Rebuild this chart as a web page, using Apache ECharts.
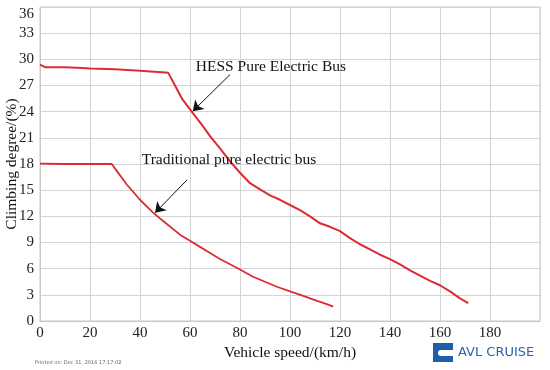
<!DOCTYPE html>
<html>
<head>
<meta charset="utf-8">
<script src="https://cdn.jsdelivr.net/npm/echarts@6/dist/echarts.min.js"></script>
<style>html,body{margin:0;padding:0;background:#fff}#c{width:550px;height:370px}</style>
</head>
<body>
<div id="c"></div>
<script>
// Data
var hessSeries = [
  [0,29.4],[2,29.1],[10,29.1],[17,29.0],[20,28.95],[30,28.85],[40,28.7],[50,28.5],[51.3,28.45],
  [54,27.0],[57,25.4],[61,23.9],[65,22.4],[68,21.2],[72,19.8],[76,18.3],[80,17.0],[84,15.8],
  [88,15.1],[92,14.4],[96,13.9],[100,13.3],[104,12.7],[108,12.0],[112,11.2],[116,10.8],[120,10.3],
  [124,9.5],[128,8.8],[132,8.2],[136,7.6],[140,7.1],[144,6.5],[148,5.8],[152,5.2],[156,4.6],
  [160,4.1],[164,3.4],[168,2.6],[171.3,2.05]
];
var tradSeries = [
  [0,18.05],[10,18.0],[20,18.0],[28.7,18.0],[31,17.1],[34.7,15.65],[40,13.9],[45.3,12.4],[50,11.3],
  [56,9.9],[60,9.2],[64,8.5],[68,7.8],[72,7.1],[76,6.5],[80,5.9],[85,5.1],[90,4.5],[95,3.9],
  [100,3.4],[105,2.9],[110,2.4],[115,1.9],[117.3,1.65]
];
var seriesNames = ['HESS Pure Electric Bus', 'Traditional pure electric bus'];
var xTicks = [0,20,40,60,80,100,120,140,160,180];
var yTicks = [0,3,6,9,12,15,18,21,24,27,30,33,36];
var xName = 'Vehicle speed/(km/h)';
var yName = 'Climbing degree/(%)';
// annotation anchors (data units)
var hessLabelAt = [62.3, 29.1];
var hessArrow = [[76, 28.25], [61.1, 24.05]];
var tradLabelAt = [40.7, 18.5];
var tradArrow = [[58.9, 16.2], [46, 12.4]];

var serif = '"Liberation Serif", "Times New Roman", serif';
var chart = echarts.init(document.getElementById('c'));
function arrowLine(a) {
  return {
    silent: true, animation: false,
    symbol: ['none', 'arrow'], symbolSize: 10,
    lineStyle: {color: '#111', width: 1, type: 'solid'},
    itemStyle: {color: '#111'},
    label: {show: false},
    emphasis: {disabled: true},
    data: [[{coord: a[0]}, {coord: a[1]}]]
  };
}
function textPoint(at, txt) {
  return {
    silent: true, animation: false,
    symbol: 'circle', symbolSize: 0,
    label: {show: true, position: 'right', distance: 0, formatter: txt,
      fontFamily: serif, fontSize: 15.5, color: '#111'},
    data: [{coord: at}]
  };
}
chart.setOption({
  animation: false,
  backgroundColor: '#fff',
  grid: {left: 40, right: 10, top: 7, bottom: 49, containLabel: false, outerBoundsMode: 'none',
    show: true, borderColor: '#c8c8c8', borderWidth: 1},
  xAxis: {
    type: 'value', min: 0, max: 200, interval: 20,
    name: xName, nameLocation: 'middle', nameGap: 24, nameMoveOverlap: false,
    nameTextStyle: {fontFamily: serif, fontSize: 15.5, color: '#111'},
    axisLine: {show: true, lineStyle: {color: '#c8c8c8'}},
    axisTick: {show: false},
    axisLabel: {fontFamily: serif, fontSize: 15, color: '#222', margin: 5,
      formatter: function (v) { return xTicks.indexOf(v) >= 0 ? String(v) : ''; }},
    splitLine: {show: true, lineStyle: {color: '#d4d4d4', width: 1}}
  },
  yAxis: {
    type: 'value', min: 0, max: 36, interval: 3,
    name: yName, nameLocation: 'middle', nameGap: 20, nameMoveOverlap: false,
    nameTextStyle: {fontFamily: serif, fontSize: 15.5, color: '#111'},
    axisLine: {show: true, lineStyle: {color: '#c8c8c8'}},
    axisTick: {show: false},
    axisLabel: {fontFamily: serif, fontSize: 15, color: '#222', margin: 6,
      verticalAlignMaxLabel: 'top',
      formatter: function (v) { return yTicks.indexOf(v) >= 0 ? String(v) : ''; }},
    splitLine: {show: true, lineStyle: {color: '#d4d4d4', width: 1}}
  },
  series: [
    {
      name: seriesNames[0], type: 'line', data: hessSeries, showSymbol: false,
      lineStyle: {color: '#dc2b35', width: 2}, z: 3,
      markLine: arrowLine(hessArrow),
      markPoint: textPoint(hessLabelAt, seriesNames[0])
    },
    {
      name: seriesNames[1], type: 'line', data: tradSeries, showSymbol: false,
      lineStyle: {color: '#dc2b35', width: 1.8}, z: 3,
      markLine: arrowLine(tradArrow),
      markPoint: textPoint(tradLabelAt, seriesNames[1])
    }
  ],
  graphic: [
    {type: 'text', left: 35, top: 360, silent: true,
      style: {text: 'Printed on: Dec 31, 2016 17:17:02', font: '5px "DejaVu Sans"', fill: '#666'}},
    {type: 'group', left: 433, top: 343, silent: true, children: [
      {type: 'rect', shape: {x: 0, y: 0, width: 20, height: 19}, style: {fill: '#1f5ea8'}},
      {type: 'rect', shape: {x: 5, y: 7, width: 15, height: 6, r: [3, 0, 0, 3]}, style: {fill: '#fff'}},
      {type: 'rect', shape: {x: 0, y: 0, width: 20, height: 4}, style: {fill: '#1f5ea8'}}
    ]},
    {type: 'text', left: 458, top: 346, silent: true,
      style: {text: 'AVL CRUISE', font: '13px "DejaVu Sans"', fill: '#2b64ad'}}
  ]
});
</script>
</body>
</html>
